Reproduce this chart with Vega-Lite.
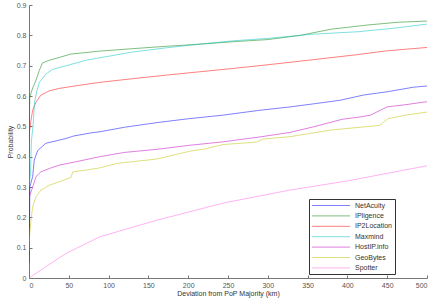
{
  "$schema": "https://vega.github.io/schema/vega-lite/v6.json",
  "width": 398,
  "height": 273,
  "autosize": "none",
  "padding": {"left": 29, "top": 5, "right": 9, "bottom": 22},
  "background": "white",
  "config": {
    "view": {"stroke": null},
    "font": "Liberation Sans",
    "axis": {
      "domainColor": "#777",
      "tickColor": "#777",
      "tickSize": -3,
      "labelFont": "Liberation Sans",
      "labelFontSize": 7,
      "labelColor": "#555",
      "titleFont": "Liberation Sans",
      "titleFontSize": 7,
      "titleFontWeight": "normal",
      "titleColor": "#333",
      "grid": false
    },
    "legend": {
      "orient": "none",
      "legendX": 280,
      "legendY": 194,
      "symbolType": "M-7.6,0H7.6",
      "symbolSize": 25,
      "symbolStrokeWidth": 1,
      "symbolOpacity": 0.5,
      "labelFont": "Liberation Sans",
      "labelFontSize": 7,
      "labelColor": "#333",
      "strokeColor": "#333",
      "fillColor": "white",
      "padding": 3,
      "rowPadding": 2.4,
      "symbolOffset": 15.5,
      "labelOffset": 20.5
    }
  },
  "data": {
    "values": [
      {"s": "NetAcuity", "v": 0, "p": 0.05}, {"s": "NetAcuity", "v": 0.5, "p": 0.10}, {"s": "NetAcuity", "v": 1, "p": 0.30},
      {"s": "NetAcuity", "v": 4.6, "p": 0.334}, {"s": "NetAcuity", "v": 6.6, "p": 0.389}, {"s": "NetAcuity", "v": 10.9, "p": 0.42},
      {"s": "NetAcuity", "v": 21, "p": 0.444}, {"s": "NetAcuity", "v": 34, "p": 0.452}, {"s": "NetAcuity", "v": 46.5, "p": 0.46},
      {"s": "NetAcuity", "v": 56, "p": 0.468}, {"s": "NetAcuity", "v": 77, "p": 0.478}, {"s": "NetAcuity", "v": 89, "p": 0.482},
      {"s": "NetAcuity", "v": 120, "p": 0.497}, {"s": "NetAcuity", "v": 160, "p": 0.512}, {"s": "NetAcuity", "v": 200, "p": 0.525},
      {"s": "NetAcuity", "v": 244, "p": 0.537}, {"s": "NetAcuity", "v": 290, "p": 0.553}, {"s": "NetAcuity", "v": 328, "p": 0.564},
      {"s": "NetAcuity", "v": 360, "p": 0.575}, {"s": "NetAcuity", "v": 391, "p": 0.586}, {"s": "NetAcuity", "v": 420, "p": 0.603},
      {"s": "NetAcuity", "v": 450, "p": 0.614}, {"s": "NetAcuity", "v": 483, "p": 0.629}, {"s": "NetAcuity", "v": 500, "p": 0.633},

      {"s": "IPligence", "v": 0, "p": 0.45}, {"s": "IPligence", "v": 1, "p": 0.597}, {"s": "IPligence", "v": 4.6, "p": 0.626},
      {"s": "IPligence", "v": 8.8, "p": 0.652}, {"s": "IPligence", "v": 13, "p": 0.685}, {"s": "IPligence", "v": 17, "p": 0.709},
      {"s": "IPligence", "v": 25.5, "p": 0.718}, {"s": "IPligence", "v": 38, "p": 0.727}, {"s": "IPligence", "v": 52, "p": 0.738},
      {"s": "IPligence", "v": 89, "p": 0.748}, {"s": "IPligence", "v": 130, "p": 0.756}, {"s": "IPligence", "v": 173, "p": 0.764},
      {"s": "IPligence", "v": 215, "p": 0.771}, {"s": "IPligence", "v": 257, "p": 0.779}, {"s": "IPligence", "v": 300, "p": 0.786},
      {"s": "IPligence", "v": 341, "p": 0.80}, {"s": "IPligence", "v": 379, "p": 0.82}, {"s": "IPligence", "v": 425, "p": 0.834},
      {"s": "IPligence", "v": 463, "p": 0.843}, {"s": "IPligence", "v": 500, "p": 0.847},

      {"s": "IP2Location", "v": 0, "p": 0.40}, {"s": "IP2Location", "v": 0.5, "p": 0.48}, {"s": "IP2Location", "v": 2.5, "p": 0.52},
      {"s": "IP2Location", "v": 4.6, "p": 0.553}, {"s": "IP2Location", "v": 8.8, "p": 0.58}, {"s": "IP2Location", "v": 15, "p": 0.603},
      {"s": "IP2Location", "v": 25.5, "p": 0.617}, {"s": "IP2Location", "v": 38, "p": 0.625}, {"s": "IP2Location", "v": 60, "p": 0.634},
      {"s": "IP2Location", "v": 89, "p": 0.645}, {"s": "IP2Location", "v": 130, "p": 0.657}, {"s": "IP2Location", "v": 173, "p": 0.669},
      {"s": "IP2Location", "v": 215, "p": 0.68}, {"s": "IP2Location", "v": 257, "p": 0.691}, {"s": "IP2Location", "v": 300, "p": 0.703},
      {"s": "IP2Location", "v": 341, "p": 0.715}, {"s": "IP2Location", "v": 408, "p": 0.735}, {"s": "IP2Location", "v": 450, "p": 0.749},
      {"s": "IP2Location", "v": 500, "p": 0.76},

      {"s": "Maxmind", "v": 0, "p": 0.30}, {"s": "Maxmind", "v": 2, "p": 0.35}, {"s": "Maxmind", "v": 3, "p": 0.45},
      {"s": "Maxmind", "v": 5, "p": 0.5}, {"s": "Maxmind", "v": 7, "p": 0.58}, {"s": "Maxmind", "v": 9.6, "p": 0.614},
      {"s": "Maxmind", "v": 13, "p": 0.645}, {"s": "Maxmind", "v": 21, "p": 0.672}, {"s": "Maxmind", "v": 30, "p": 0.688},
      {"s": "Maxmind", "v": 47, "p": 0.70}, {"s": "Maxmind", "v": 72, "p": 0.718}, {"s": "Maxmind", "v": 89, "p": 0.726},
      {"s": "Maxmind", "v": 130, "p": 0.745}, {"s": "Maxmind", "v": 173, "p": 0.759}, {"s": "Maxmind", "v": 215, "p": 0.771},
      {"s": "Maxmind", "v": 257, "p": 0.782}, {"s": "Maxmind", "v": 300, "p": 0.79}, {"s": "Maxmind", "v": 341, "p": 0.80},
      {"s": "Maxmind", "v": 358, "p": 0.804}, {"s": "Maxmind", "v": 414, "p": 0.812}, {"s": "Maxmind", "v": 460, "p": 0.824},
      {"s": "Maxmind", "v": 500, "p": 0.837},

      {"s": "HostIP.info", "v": 0, "p": 0.25}, {"s": "HostIP.info", "v": 0.5, "p": 0.268}, {"s": "HostIP.info", "v": 4.6, "p": 0.30},
      {"s": "HostIP.info", "v": 8.8, "p": 0.334}, {"s": "HostIP.info", "v": 15, "p": 0.35}, {"s": "HostIP.info", "v": 25.5, "p": 0.361},
      {"s": "HostIP.info", "v": 38, "p": 0.372}, {"s": "HostIP.info", "v": 64, "p": 0.386}, {"s": "HostIP.info", "v": 89, "p": 0.40},
      {"s": "HostIP.info", "v": 120, "p": 0.414}, {"s": "HostIP.info", "v": 160, "p": 0.424}, {"s": "HostIP.info", "v": 200, "p": 0.437},
      {"s": "HostIP.info", "v": 244, "p": 0.449}, {"s": "HostIP.info", "v": 290, "p": 0.465}, {"s": "HostIP.info", "v": 328, "p": 0.48},
      {"s": "HostIP.info", "v": 360, "p": 0.50}, {"s": "HostIP.info", "v": 393, "p": 0.523}, {"s": "HostIP.info", "v": 416, "p": 0.531},
      {"s": "HostIP.info", "v": 429, "p": 0.537}, {"s": "HostIP.info", "v": 450, "p": 0.564}, {"s": "HostIP.info", "v": 475, "p": 0.572},
      {"s": "HostIP.info", "v": 496, "p": 0.58}, {"s": "HostIP.info", "v": 500, "p": 0.581},

      {"s": "GeoBytes", "v": 0, "p": 0.09}, {"s": "GeoBytes", "v": 1, "p": 0.15}, {"s": "GeoBytes", "v": 2.5, "p": 0.19},
      {"s": "GeoBytes", "v": 4.6, "p": 0.235}, {"s": "GeoBytes", "v": 8.8, "p": 0.268}, {"s": "GeoBytes", "v": 15, "p": 0.29},
      {"s": "GeoBytes", "v": 25.5, "p": 0.306}, {"s": "GeoBytes", "v": 38, "p": 0.317}, {"s": "GeoBytes", "v": 52.8, "p": 0.332},
      {"s": "GeoBytes", "v": 55, "p": 0.35}, {"s": "GeoBytes", "v": 72.6, "p": 0.356}, {"s": "GeoBytes", "v": 89, "p": 0.363},
      {"s": "GeoBytes", "v": 111, "p": 0.378}, {"s": "GeoBytes", "v": 160, "p": 0.392}, {"s": "GeoBytes", "v": 202, "p": 0.418},
      {"s": "GeoBytes", "v": 220, "p": 0.425}, {"s": "GeoBytes", "v": 244, "p": 0.44}, {"s": "GeoBytes", "v": 286, "p": 0.448},
      {"s": "GeoBytes", "v": 294, "p": 0.458}, {"s": "GeoBytes", "v": 328, "p": 0.466}, {"s": "GeoBytes", "v": 380, "p": 0.488},
      {"s": "GeoBytes", "v": 440, "p": 0.503}, {"s": "GeoBytes", "v": 451, "p": 0.525}, {"s": "GeoBytes", "v": 473, "p": 0.537},
      {"s": "GeoBytes", "v": 500, "p": 0.547},

      {"s": "Spotter", "v": 0, "p": 0}, {"s": "Spotter", "v": 21, "p": 0.037}, {"s": "Spotter", "v": 46.5, "p": 0.081},
      {"s": "Spotter", "v": 89, "p": 0.136}, {"s": "Spotter", "v": 160, "p": 0.19}, {"s": "Spotter", "v": 244, "p": 0.247},
      {"s": "Spotter", "v": 328, "p": 0.29}, {"s": "Spotter", "v": 400, "p": 0.32}, {"s": "Spotter", "v": 450, "p": 0.345},
      {"s": "Spotter", "v": 500, "p": 0.37}
    ]
  },
  "mark": {"type": "line", "strokeWidth": 1, "opacity": 0.5, "clip": true},
  "encoding": {
    "x": {
      "field": "v", "type": "quantitative",
      "scale": {"domain": [0, 500], "nice": false},
      "axis": {"values": [0, 50, 100, 150, 200, 250, 300, 350, 400, 450, 500], "title": "Deviation from PoP Majority (km)", "labelPadding": 6, "titlePadding": 1}
    },
    "y": {
      "field": "p", "type": "quantitative",
      "scale": {"domain": [0, 0.9], "nice": false},
      "axis": {"values": [0, 0.1, 0.2, 0.3, 0.4, 0.5, 0.6, 0.7, 0.8, 0.9], "format": "~g", "title": "Probability", "labelPadding": 6, "titlePadding": 3}
    },
    "color": {
      "field": "s", "type": "nominal",
      "scale": {
        "domain": ["NetAcuity", "IPligence", "IP2Location", "Maxmind", "HostIP.info", "GeoBytes", "Spotter"],
        "range": ["#0000ff", "#008000", "#ff0000", "#00bfbf", "#bf00bf", "#bfbf00", "#ff66e6"]
      },
      "legend": {"title": null}
    },
    "order": {"field": "v", "type": "quantitative"}
  }
}
